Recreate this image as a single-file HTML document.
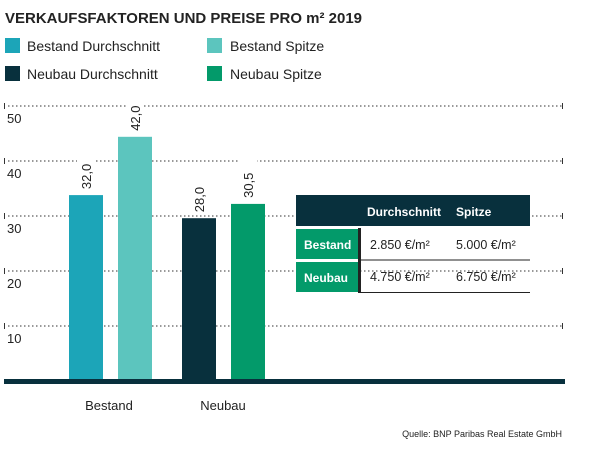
<!DOCTYPE html>
<html><head><meta charset="utf-8"><style>
body{margin:0;background:#fff;font-family:"Liberation Sans",sans-serif;}
svg text{font-family:"Liberation Sans",sans-serif;}
</style></head><body>
<svg width="600" height="450" viewBox="0 0 600 450">
<text x="5" y="23" font-size="15" font-weight="bold" fill="#222" textLength="357" lengthAdjust="spacingAndGlyphs">VERKAUFSFAKTOREN UND PREISE PRO m² 2019</text>
<g>
<rect x="5" y="38" width="15" height="15" fill="#1ca5b8"/>
<text x="27" y="51" font-size="14" fill="#222">Bestand Durchschnitt</text>
<rect x="207" y="38" width="15" height="15" fill="#5cc5be"/>
<text x="230" y="51" font-size="14" fill="#222">Bestand Spitze</text>
<rect x="5" y="66" width="15" height="15" fill="#08303d"/>
<text x="27" y="79" font-size="14" fill="#222">Neubau Durchschnitt</text>
<rect x="207" y="66" width="15" height="15" fill="#039a6a"/>
<text x="230" y="79" font-size="14" fill="#222">Neubau Spitze</text>
</g>
<g id="grid"></g>
<g id="bars"></g>
<rect x="4" y="379" width="561" height="5" fill="#08303d"/>
<text x="109" y="410" font-size="13" fill="#222" text-anchor="middle">Bestand</text>
<text x="223" y="410" font-size="13" fill="#222" text-anchor="middle">Neubau</text>
<g>
<rect x="296" y="195" width="234" height="31" fill="#08303d"/>
<text x="367" y="216" font-size="12" font-weight="bold" fill="#fff">Durchschnitt</text>
<text x="456" y="216" font-size="12" font-weight="bold" fill="#fff">Spitze</text>
<rect x="296" y="229" width="62" height="30" fill="#039a6a"/>
<text x="304" y="249" font-size="12" font-weight="bold" fill="#fff">Bestand</text>
<rect x="296" y="262" width="62" height="30" fill="#039a6a"/>
<text x="304" y="282" font-size="12" font-weight="bold" fill="#fff">Neubau</text>
<rect x="358" y="228" width="3" height="65" fill="#222"/>
<line x1="361" y1="260" x2="530" y2="260" stroke="#222" stroke-width="1"/>
<line x1="361" y1="292.5" x2="530" y2="292.5" stroke="#222" stroke-width="1"/>
<text x="370" y="249" font-size="12.5" fill="#222">2.850 €/m²</text>
<text x="456" y="249" font-size="12.5" fill="#222">5.000 €/m²</text>
<text x="370" y="281" font-size="12.5" fill="#222">4.750 €/m²</text>
<text x="456" y="281" font-size="12.5" fill="#222">6.750 €/m²</text>
</g>
<text x="562" y="437" font-size="9" fill="#222" text-anchor="end">Quelle: BNP Paribas Real Estate GmbH</text>
</svg>
<script>
const ticks = [10, 20, 30, 40, 50];
const seriesNames = ["bestand-durchschnitt", "bestand-spitze", "neubau-durchschnitt", "neubau-spitze"];
const barValues = [33.8, 44.4, 29.6, 32.2];
const barLabels = ["32,0", "42,0", "28,0", "30,5"];
const colors = ["#1ca5b8", "#5cc5be", "#08303d", "#039a6a"];
const NS = "http://www.w3.org/2000/svg";
const y = v => 381 - v * 5.5;
const barX = i => [69, 118, 182, 231][i];
const grid = document.getElementById("grid");
ticks.forEach(t => {
  const l = document.createElementNS(NS, "line");
  l.setAttribute("x1", 8); l.setAttribute("x2", 562);
  l.setAttribute("y1", y(t)); l.setAttribute("y2", y(t));
  l.setAttribute("stroke", "#333"); l.setAttribute("stroke-dasharray", "1.5 2.5");
  
  
  grid.appendChild(l);
  [4.5, 562.5].forEach(x => {
    const k = document.createElementNS(NS, "line");
    k.setAttribute("x1", x); k.setAttribute("x2", x);
    k.setAttribute("y1", y(t) - 3); k.setAttribute("y2", y(t) + 3);
    k.setAttribute("stroke", "#333");
    
    
    grid.appendChild(k);
  });
  const tx = document.createElementNS(NS, "text");
  tx.setAttribute("x", 7); tx.setAttribute("y", y(t) + 17);
  tx.setAttribute("font-size", "13"); tx.setAttribute("fill", "#222");
  tx.textContent = t;
  
  
  grid.appendChild(tx);
});
const bars = document.getElementById("bars");
barValues.forEach((v, i) => {
  const r = document.createElementNS(NS, "rect");
  r.setAttribute("x", barX(i)); r.setAttribute("width", 34);
  r.setAttribute("y", y(v)); r.setAttribute("height", 381 - y(v));
  r.setAttribute("fill", colors[i]);
  
  
  bars.appendChild(r);
  const bg = document.createElementNS(NS, "rect");
  bg.setAttribute("x", barX(i) + 8); bg.setAttribute("width", 18);
  bg.setAttribute("y", y(v) - 44); bg.setAttribute("height", 40);
  bg.setAttribute("fill", "#fff");
  
  
  bars.appendChild(bg);
  const tx = document.createElementNS(NS, "text");
  const cx = barX(i) + 22, cy = y(v) - 6;
  tx.setAttribute("x", cx); tx.setAttribute("y", cy);
  tx.setAttribute("font-size", "13"); tx.setAttribute("fill", "#222");
  tx.setAttribute("transform", "rotate(-90 " + cx + " " + cy + ")");
  tx.textContent = barLabels[i];
  
  
  bars.appendChild(tx);
});
</script>
</body></html>
